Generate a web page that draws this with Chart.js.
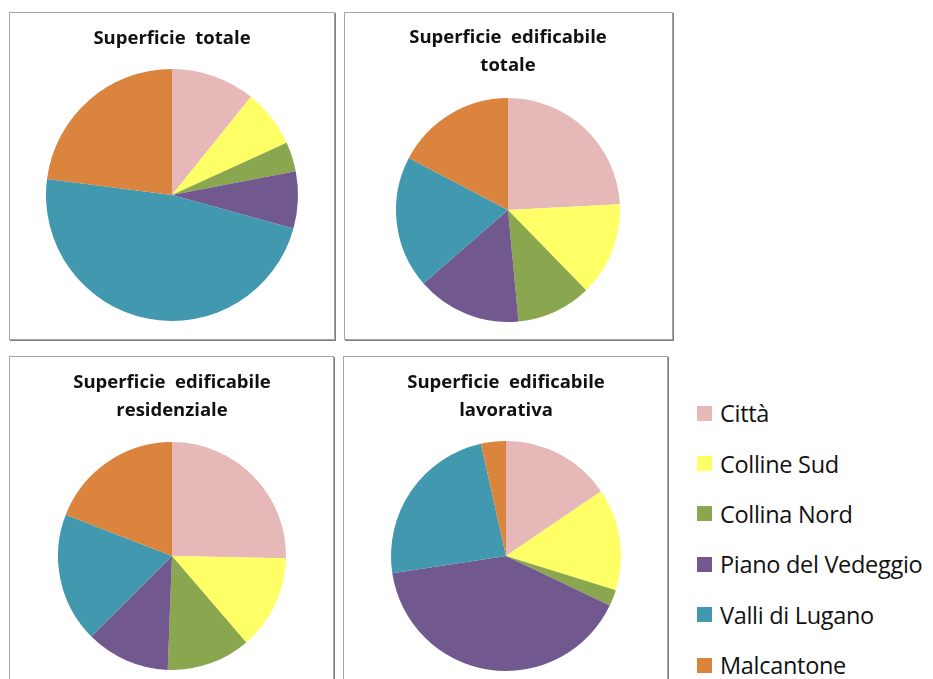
<!DOCTYPE html>
<html>
<head>
<meta charset="utf-8">
<script src="https://cdn.jsdelivr.net/npm/chart.js@4"></script>
<style>
  body { margin: 0; background: #fff; width: 933px; height: 679px; overflow: hidden; position: relative; font-family: "Open Sans", sans-serif; }
  .panel { position: absolute; box-sizing: border-box; border: 1px solid #a6a6a6; box-shadow: 1px 1px 0 #7f7f7f; background: #fff; }
  .panel canvas { position: absolute; left: 0; top: 0; }
  #legend { position: absolute; left: 697px; top: 388px; }
  .row { height: 50.4px; display: flex; align-items: center; font-size: 23.5px; color: #111; letter-spacing: -0.3px; }
  .box { width: 15px; height: 15px; margin-right: 8px; }
</style>
</head>
<body>
<div id="legend"></div>
<script>
// categories and colours
const regions = ['Città', 'Colline Sud', 'Collina Nord', 'Piano del Vedeggio', 'Valli di Lugano', 'Malcantone'];
const colors = ['#e6b9b8', '#ffff66', '#8aa64f', '#71588f', '#4198af', '#db843d'];

// share of each region (%)
const superficieTotale = [10.8, 7.4, 3.8, 7.3, 47.8, 23.0];
const edificabileTotale = [24.2, 13.5, 10.8, 15.1, 19.1, 17.3];
const edificabileResidenziale = [25.3, 13.4, 11.9, 11.9, 18.4, 19.1];
const edificabileLavorativa = [15.5, 14.3, 2.3, 40.5, 23.9, 3.5];

const titles = [
    ['Superficie  totale'],
    ['Superficie  edificabile', 'totale'],
    ['Superficie  edificabile', 'residenziale'],
    ['Superficie  edificabile', 'lavorativa']
];
const series = [superficieTotale, edificabileTotale, edificabileResidenziale, edificabileLavorativa];

// panel boxes and wanted pie centre / radius (page pixels)
const panels = [
    { left: 9,   top: 12,  w: 326, h: 328, cx: 172, cy: 195, r: 126, tp: 15, lh: 1.2 },
    { left: 344, top: 12,  w: 329, h: 328, cx: 508, cy: 210, r: 112, tp: 11, lh: 1.5 },
    { left: 9,   top: 356, w: 325, h: 340, cx: 172, cy: 556, r: 114, tp: 12, lh: 1.5 },
    { left: 343, top: 356, w: 325, h: 340, cx: 506, cy: 556, r: 115, tp: 12, lh: 1.5 }
];

const titleSize = 18.5;

panels.forEach(function (p, i) {
    const div = document.createElement('div');
    div.className = 'panel';
    div.style.left = p.left + 'px';
    div.style.top = p.top + 'px';
    div.style.width = p.w + 'px';
    div.style.height = p.h + 'px';
    const canvas = document.createElement('canvas');
    const cw = p.w - 2, ch = p.h - 2;
    canvas.width = cw;
    canvas.height = ch;
    canvas.style.width = cw + 'px';
    canvas.style.height = ch + 'px';
    div.appendChild(canvas);
    document.body.appendChild(div);

    // work out paddings so the pie lands where it sits in the picture
    const cx = p.cx - p.left - 1, cy = p.cy - p.top - 1;
    const areaTop = cy - p.r;
    const titleH = titles[i].length * titleSize * p.lh;

    new Chart(canvas.getContext('2d'), {
        type: 'pie',
        data: {
            labels: regions,
            datasets: [{
                data: series[i],
                backgroundColor: colors,
                borderWidth: 0
            }]
        },
        options: {
            responsive: false,
            animation: false,
            layout: {
                padding: { left: cx - p.r, right: cw - (cx + p.r), top: 0, bottom: ch - (cy + p.r) }
            },
            plugins: {
                legend: { display: false },
                tooltip: { enabled: false },
                title: {
                    display: true,
                    text: titles[i],
                    color: '#111',
                    font: { family: 'Open Sans', size: titleSize, weight: 'bold', lineHeight: p.lh },
                    padding: { top: p.tp, bottom: areaTop - p.tp - titleH }
                }
            }
        }
    });
});

// legend on the right
const legend = document.getElementById('legend');
regions.forEach(function (name, i) {
    const row = document.createElement('div');
    row.className = 'row';
    row.innerHTML = '<div class="box" style="background:' + colors[i] + '"></div><span>' + name + '</span>';
    legend.appendChild(row);
});
</script>
</body>
</html>
